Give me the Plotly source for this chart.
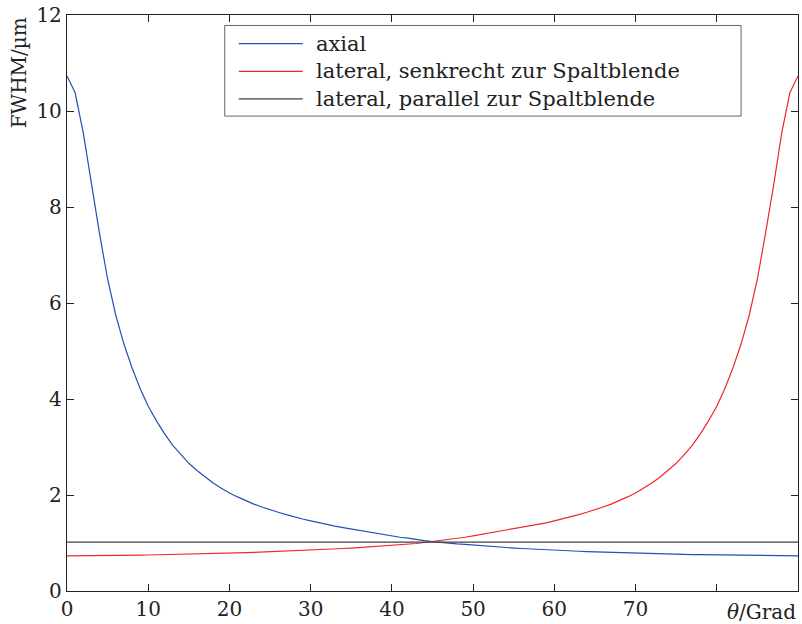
import plotly.graph_objects as go

theta = list(range(0, 91))

axial = [
    10.73, 10.38, 9.55, 8.45, 7.45, 6.50, 5.75, 5.15, 4.65, 4.22,
    3.85, 3.55, 3.28, 3.04, 2.84, 2.66, 2.51, 2.37, 2.25, 2.14,
    2.04, 1.96, 1.88, 1.81, 1.75, 1.69, 1.64, 1.59, 1.54, 1.50,
    1.46, 1.42, 1.38, 1.35, 1.32, 1.29, 1.26, 1.23, 1.20, 1.18,
    1.15, 1.12, 1.10, 1.07, 1.05, 1.03, 1.01, 0.99, 0.98, 0.97,
    0.955, 0.94, 0.93, 0.92, 0.905, 0.895, 0.885, 0.875, 0.865, 0.857,
    0.85, 0.842, 0.835, 0.828, 0.822, 0.816, 0.81, 0.804, 0.798, 0.793,
    0.788, 0.783, 0.778, 0.774, 0.77, 0.766, 0.762, 0.759, 0.756, 0.753,
    0.75, 0.747, 0.745, 0.742, 0.74, 0.738, 0.736, 0.735, 0.734, 0.733,
    0.733,
]

senkrecht = [
    0.733, 0.733, 0.734, 0.735, 0.736, 0.738, 0.74, 0.742, 0.745, 0.747,
    0.75, 0.753, 0.756, 0.759, 0.762, 0.766, 0.77, 0.774, 0.778, 0.783,
    0.788, 0.793, 0.798, 0.804, 0.81, 0.816, 0.822, 0.828, 0.835, 0.842,
    0.85, 0.857, 0.865, 0.875, 0.885, 0.895, 0.905, 0.92, 0.93, 0.94,
    0.955, 0.97, 0.98, 0.99, 1.01, 1.03, 1.05, 1.07, 1.10, 1.12,
    1.15, 1.18, 1.20, 1.23, 1.26, 1.29, 1.32, 1.35, 1.38, 1.42,
    1.46, 1.50, 1.54, 1.59, 1.64, 1.69, 1.75, 1.81, 1.88, 1.96,
    2.04, 2.14, 2.25, 2.37, 2.51, 2.66, 2.84, 3.04, 3.28, 3.55,
    3.85, 4.22, 4.65, 5.15, 5.75, 6.50, 7.45, 8.45, 9.55, 10.38,
    10.73,
]

parallel_theta = [0, 90]
parallel = [1.02, 1.02]

names = ["axial", "lateral, senkrecht zur Spaltblende", "lateral, parallel zur Spaltblende"]
colors = ["#1f52b4", "#f02828", "#404040"]

x_ticks = [0, 10, 20, 30, 40, 50, 60, 70, 80]
x_ticktext = ["0", "10", "20", "30", "40", "50", "60", "70", ""]
y_ticks = [0, 2, 4, 6, 8, 10, 12]

FONT = "DejaVu Serif"
INK = "#222222"

fig = go.Figure()
fig.add_trace(go.Scatter(x=theta, y=axial, mode="lines", name=names[0],
                         line=dict(color=colors[0], width=1.2)))
fig.add_trace(go.Scatter(x=theta, y=senkrecht, mode="lines", name=names[1],
                         line=dict(color=colors[1], width=1.2)))
fig.add_trace(go.Scatter(x=parallel_theta, y=parallel, mode="lines", name=names[2],
                         line=dict(color=colors[2], width=1.2)))

axis_style = dict(
    showgrid=False, zeroline=False, showline=True, linecolor=INK, linewidth=1.3,
    mirror="ticks", ticks="inside", ticklen=7, tickwidth=1, tickcolor=INK,
    tickfont=dict(family=FONT, size=20, color=INK),
)
fig.update_xaxes(range=[0, 90], tickvals=x_ticks, ticktext=x_ticktext, **axis_style)
fig.update_yaxes(range=[0, 12], tickvals=y_ticks, **axis_style)

# hand-drawn legend so the sample lines are as long as in the original
x0, x1, y0, y1 = 0.2158, 0.9221, 0.8245, 0.9818
fig.add_shape(type="rect", xref="paper", yref="paper", x0=x0, x1=x1, y0=y0, y1=y1,
              line=dict(color="#666666", width=1), fillcolor="white", layer="above")
rows = [0.9502, 0.9023, 0.8545]
for name, color, ry in zip(names, colors, rows):
    fig.add_shape(type="line", xref="paper", yref="paper", x0=0.235, x1=0.3224,
                  y0=ry, y1=ry, line=dict(color=color, width=1.2), layer="above")
    fig.add_annotation(xref="paper", yref="paper", x=0.338, y=ry, text=name,
                       showarrow=False, xanchor="left", yanchor="middle",
                       font=dict(family=FONT, size=21, color=INK))

fig.add_annotation(xref="paper", yref="paper", x=1.0, y=0, yshift=-7,
                   text="<i>θ</i>/Grad", showarrow=False,
                   xanchor="right", yanchor="top",
                   font=dict(family=FONT, size=20, color=INK))
fig.add_annotation(xref="paper", yref="paper", x=-0.066, y=1.0, yshift=0,
                   text="FWHM/µm", textangle=-90, showarrow=False,
                   xanchor="center", yanchor="top",
                   font=dict(family=FONT, size=20, color=INK))

fig.update_layout(
    width=802, height=624,
    margin=dict(l=67, r=3, t=14, b=32),
    paper_bgcolor="white", plot_bgcolor="white",
    showlegend=False,
)

fig.write_html("out.html", config={"displayModeBar": False},
               post_script="document.body.style.margin='0px';")
